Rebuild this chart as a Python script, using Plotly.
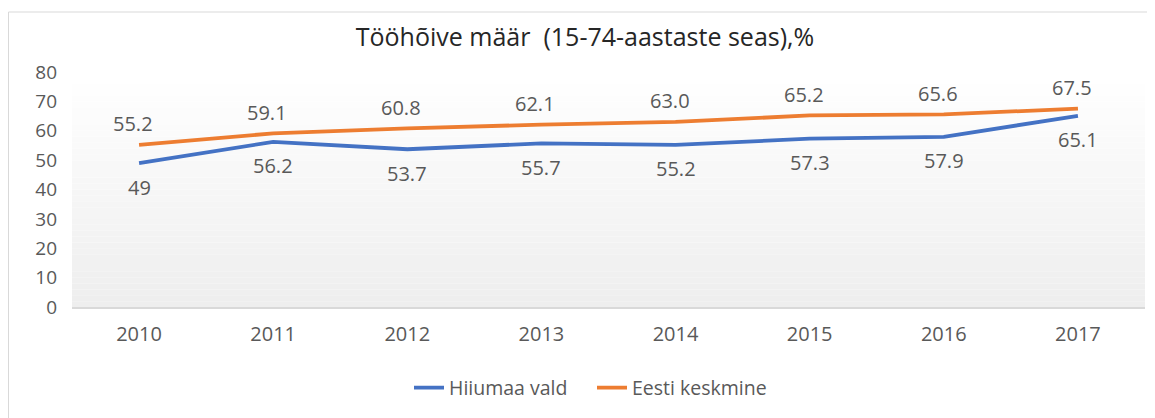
import plotly.graph_objects as go

years = ["2010", "2011", "2012", "2013", "2014", "2015", "2016", "2017"]
hiiumaa = [49, 56.2, 53.7, 55.7, 55.2, 57.3, 57.9, 65.1]
eesti = [55.2, 59.1, 60.8, 62.1, 63.0, 65.2, 65.6, 67.5]
yticks = [0, 10, 20, 30, 40, 50, 60, 70, 80]

BLUE = "#4472C4"
ORANGE = "#ED7D31"
TXT = "#595959"
FONT = "Open Sans"

# page is offset by the 8px body margin; figure coords = page coords - 8
L, T, R, B = 64, 64, 1155 - 1137, 418 - 299
PH = 299 - 64
PW = 1137 - 64

fig = go.Figure()
fig.add_trace(go.Scatter(x=years, y=hiiumaa, mode="lines", name="Hiiumaa vald",
                         line=dict(color=BLUE, width=3.8)))
fig.add_trace(go.Scatter(x=years, y=eesti, mode="lines", name="Eesti keskmine",
                         line=dict(color=ORANGE, width=3.8)))

annotations = []
for i, v in enumerate(eesti):
    annotations.append(dict(x=i, y=v, xref="x", yref="y", text=f"{v:.1f}", showarrow=False,
                            yshift=21, xshift=-6, font=dict(family=FONT, size=20, color=TXT)))
for i, v in enumerate(hiiumaa):
    t = f"{v:g}" if float(v).is_integer() else f"{v:.1f}"
    annotations.append(dict(x=i, y=v, xref="x", yref="y", text=t, showarrow=False,
                            yshift=-24, xshift=0, font=dict(family=FONT, size=20, color=TXT)))

# gradient plot background (white to light gray)
shapes = []
n = 40
for i in range(n):
    f = i / (n - 1)
    c = int(round(255 - (255 - 238) * (1 - f)))
    shapes.append(dict(type="rect", xref="paper", yref="paper", x0=0, x1=1,
                       y0=i / n, y1=(i + 1) / n, line=dict(width=0),
                       fillcolor=f"rgb({c},{c},{c})", layer="below"))
# chart border
shapes.append(dict(type="rect", xref="paper", yref="paper",
                   x0=(0.5 - L) / PW, x1=1.2, y0=-1.0, y1=(PH + T - 4) / PH,
                   line=dict(color="#d9d9d9", width=1), fillcolor="rgba(0,0,0,0)", layer="below"))

fig.update_layout(
    width=1155, height=418,
    margin=dict(l=L, r=R, t=T, b=B),
    paper_bgcolor="white",
    plot_bgcolor="rgba(0,0,0,0)",
    title=dict(text="Tööhõive määr  (15-74-aastaste seas),%", x=(585 - 8) / 1155, xanchor="center",
               y=1 - 29 / 418, yanchor="middle",
               font=dict(family=FONT, size=25, color="#262626")),
    xaxis=dict(type="category", range=[-0.5, 7.5], showgrid=False, zeroline=False, showline=True,
               linecolor="#d9d9d9", linewidth=2, ticks="", ticklabelstandoff=8,
               tickfont=dict(family=FONT, size=20, color=TXT)),
    yaxis=dict(range=[0, 80], tickvals=yticks, showgrid=False, zeroline=False,
               showline=False, ticks="", ticklabelstandoff=14,
               tickfont=dict(family=FONT, size=19, color=TXT)),
    legend=dict(orientation="h", x=(401 - L) / PW, xanchor="left", y=(299 - 380) / PH, yanchor="middle",
                font=dict(family=FONT, size=19.5, color=TXT), itemwidth=30,
                entrywidth=138, tracegroupgap=0),
    annotations=annotations,
    shapes=shapes,
    showlegend=True,
)

fig.write_html("out.html")
